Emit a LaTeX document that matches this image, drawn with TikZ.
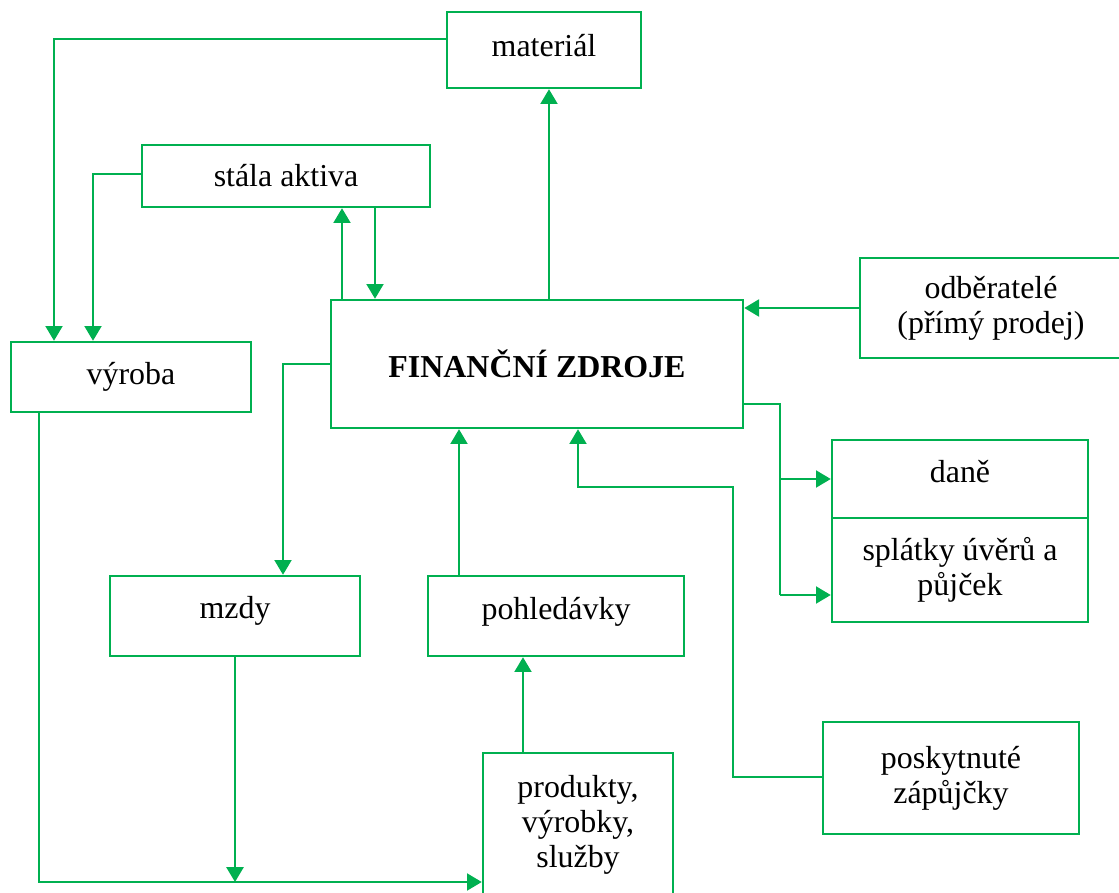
\documentclass[tikz,border=0pt]{standalone}
\usepackage{fontspec}
\setmainfont{Liberation Serif}
\usetikzlibrary{arrows.meta}
\definecolor{zelena}{RGB}{0,176,80}
\tikzset{
	box/.style={draw=zelena,line width=1.7pt,rectangle,inner sep=0pt,align=center,
		font=\fontsize{22.7pt}{25pt}\selectfont},
	arr/.style={draw=zelena,line width=1.7pt,-{Triangle[length=10.5pt,width=12pt]}},
	ln/.style={draw=zelena,line width=1.7pt}
}
\begin{document}
\begin{tikzpicture}[x=0.025cm,y=-0.025cm]
		\useasboundingbox (0,0) rectangle (1119,893);
		\clip (0,0) rectangle (1119,893);
		% boxes
		\node[box,minimum width=4.85cm,minimum height=1.9cm,text depth=0.25cm] (mat) at (544,50) {materiál};
		\node[box,minimum width=7.2cm,minimum height=1.55cm] (stala) at (286,176) {stála aktiva};
		\node[box,minimum width=6cm,minimum height=1.75cm] (vyroba) at (131,377) {výroba};
		\node[box,minimum width=10.3cm,minimum height=3.2cm] (fz) at (537,364) {\textbf{FINANČNÍ ZDROJE}};
		\node[box,minimum width=6.55cm,minimum height=2.5cm] (odb) at (991,308) {odběratelé\\(přímý prodej)};
		\node[box,minimum width=6.4cm,minimum height=1.95cm,text depth=0.4cm] (dane) at (960,479) {daně};
		\node[box,minimum width=6.4cm,minimum height=2.6cm] (splatky) at (960,570) {splátky úvěrů a\\půjček};
		\node[box,minimum width=6.25cm,minimum height=2cm,text depth=0.42cm] (mzdy) at (235,616) {mzdy};
		\node[box,minimum width=6.4cm,minimum height=2cm,text depth=0.37cm] (pohl) at (556,616) {pohledávky};
		\node[box,minimum width=4.75cm,minimum height=3.8cm,text depth=0.37cm] (prod) at (578,829) {produkty,\\výrobky,\\služby};
		\node[box,minimum width=6.4cm,minimum height=2.8cm] (posk) at (951,778) {poskytnuté\\zápůjčky};
		% bend points
		\coordinate (m1) at (54,39);
		\coordinate (s1) at (93,174);
		\coordinate (a1) at (342,250);
		\coordinate (a2) at (375,250);
		\coordinate (a3) at (549,200);
		\coordinate (d1) at (780,404);
		\coordinate (d2) at (780,595);
		\coordinate (z1) at (283,364);
		\coordinate (p1) at (459,500);
		\coordinate (k1) at (733,777);
		\coordinate (k2) at (578,487);
		\coordinate (r1) at (523,700);
		\coordinate (v1) at (39,882);
		\coordinate (w1) at (235,882);
		% connectors
		\draw[arr] (mat.west |- m1) -| (vyroba.north -| m1);
		\draw[arr] (stala.west |- s1) -| (vyroba.north -| s1);
		\draw[arr] (fz.north -| a1) -- (stala.south -| a1);
		\draw[arr] (stala.south -| a2) -- (fz.north -| a2);
		\draw[arr] (fz.north -| a3) -- (mat.south -| a3);
		\draw[arr] (odb.west) -- (odb.west -| fz.east);
		\draw[ln] (fz.east |- d1) -- (d1) -- (d2);
		\draw[arr] (d1 |- dane.west) -- (dane.west);
		\draw[arr] (d2) -- (d2 -| splatky.west);
		\draw[arr] (fz.west |- z1) -| (mzdy.north -| z1);
		\draw[arr] (pohl.north -| p1) -- (fz.south -| p1);
		\draw[arr] (posk.west |- k1) -- (k1) |- (k2) -- (fz.south -| k2);
		\draw[arr] (prod.north -| r1) -- (pohl.south -| r1);
		\draw[arr] (vyroba.south -| v1) |- (v1 -| prod.west);
		\draw[arr] (mzdy.south) -- (w1);
	\end{tikzpicture}
\end{document}
